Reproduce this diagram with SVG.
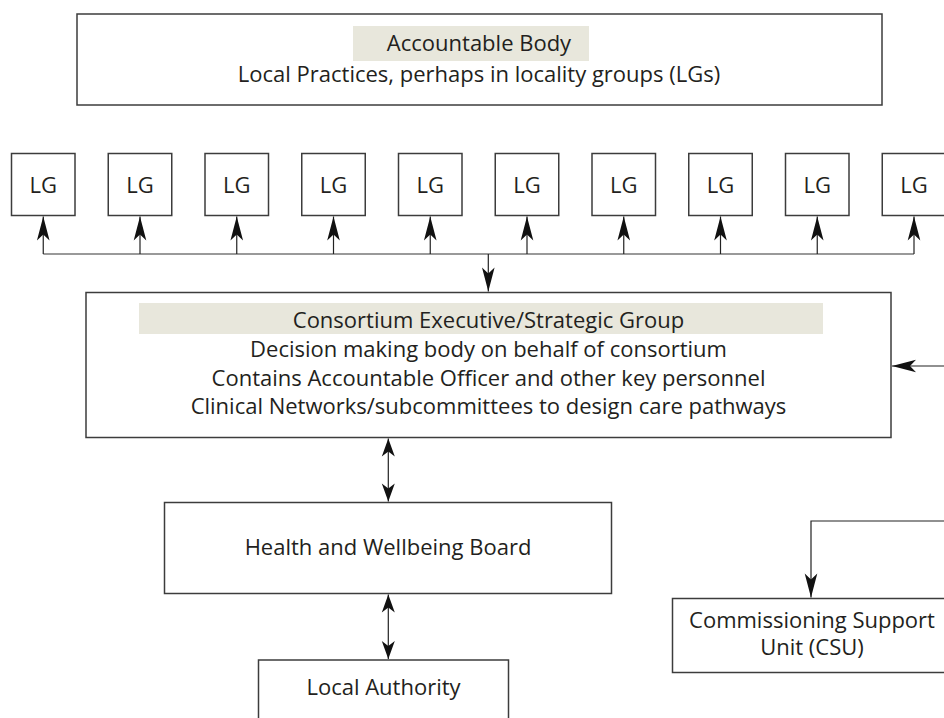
<svg xmlns="http://www.w3.org/2000/svg" width="944" height="718" viewBox="0 0 944 718">
<defs>
<style>
.box{fill:#fff;stroke:#3c3c3c;stroke-width:1.5}
.hl{fill:#e8e7dc;stroke:none}
.t{font-family:"Open Sans","Noto Sans","DejaVu Sans",sans-serif;font-size:22px;fill:#231f20;text-anchor:middle}
.ln{fill:none;stroke:#222;stroke-width:1.2}
.gl{fill:none;stroke:#777;stroke-width:1.6}
</style>
<marker id="ah" markerUnits="userSpaceOnUse" orient="auto" refX="0" refY="0" markerWidth="30" markerHeight="20" overflow="visible">
<path d="M0,0 L-24,-6.3 L-18,0 L-24,6.3 Z" fill="#111"/>
</marker>
<marker id="as" markerUnits="userSpaceOnUse" orient="auto-start-reverse" refX="0" refY="0" markerWidth="30" markerHeight="20" overflow="visible">
<path d="M0,0 L-18,-6.5 L-13,0 L-18,6.5 Z" fill="#111"/>
</marker>
</defs>

<g id="accountable-body">
<rect class="box" x="77" y="14" width="805" height="91"/>
<rect class="hl" x="353" y="26" width="236" height="35"/>
<text class="t" x="479" y="51">Accountable Body</text>
<text class="t" x="479" y="82">Local Practices, perhaps in locality groups (LGs)</text>
</g>

<g id="lg-1"><rect class="box" x="11.5" y="153.5" width="63.5" height="62"/><text class="t" x="43.25" y="192.5">LG</text></g>
<g id="lg-2"><rect class="box" x="108.25" y="153.5" width="63.5" height="62"/><text class="t" x="140" y="192.5">LG</text></g>
<g id="lg-3"><rect class="box" x="205" y="153.5" width="63.5" height="62"/><text class="t" x="236.75" y="192.5">LG</text></g>
<g id="lg-4"><rect class="box" x="301.75" y="153.5" width="63.5" height="62"/><text class="t" x="333.5" y="192.5">LG</text></g>
<g id="lg-5"><rect class="box" x="398.5" y="153.5" width="63.5" height="62"/><text class="t" x="430.25" y="192.5">LG</text></g>
<g id="lg-6"><rect class="box" x="495.25" y="153.5" width="63.5" height="62"/><text class="t" x="527" y="192.5">LG</text></g>
<g id="lg-7"><rect class="box" x="592" y="153.5" width="63.5" height="62"/><text class="t" x="623.75" y="192.5">LG</text></g>
<g id="lg-8"><rect class="box" x="688.75" y="153.5" width="63.5" height="62"/><text class="t" x="720.5" y="192.5">LG</text></g>
<g id="lg-9"><rect class="box" x="785.5" y="153.5" width="63.5" height="62"/><text class="t" x="817.25" y="192.5">LG</text></g>
<g id="lg-10"><rect class="box" x="882.25" y="153.5" width="63.5" height="62"/><text class="t" x="914" y="192.5">LG</text></g>

<g id="consortium">
<rect class="box" x="86" y="292.5" width="805" height="145"/>
<rect class="hl" x="139" y="303" width="684" height="31"/>
<text class="t" x="488.5" y="327.5">Consortium Executive/Strategic Group</text>
<text class="t" x="488.5" y="357">Decision making body on behalf of consortium</text>
<text class="t" x="488.5" y="386">Contains Accountable Officer and other key personnel</text>
<text class="t" x="488.5" y="414">Clinical Networks/subcommittees to design care pathways</text>
</g>

<g id="health-wellbeing-board">
<rect class="box" x="164.5" y="502.5" width="447" height="91"/>
<text class="t" x="388" y="555">Health and Wellbeing Board</text>
</g>

<g id="local-authority">
<rect class="box" x="258.5" y="660" width="250" height="70"/>
<text class="t" x="383.5" y="695">Local Authority</text>
</g>

<g id="csu">
<rect class="box" x="672.5" y="598.5" width="290" height="74"/>
<text class="t" x="812" y="627.5">Commissioning Support</text>
<text class="t" x="812" y="655">Unit (CSU)</text>
</g>

<g id="connectors">
<path class="gl" d="M43.25,254 H914"/>
<path class="ln" d="M43.25,254 V216.5" marker-end="url(#ah)"/>
<path class="ln" d="M140,254 V216.5" marker-end="url(#ah)"/>
<path class="ln" d="M236.75,254 V216.5" marker-end="url(#ah)"/>
<path class="ln" d="M333.5,254 V216.5" marker-end="url(#ah)"/>
<path class="ln" d="M430.25,254 V216.5" marker-end="url(#ah)"/>
<path class="ln" d="M527,254 V216.5" marker-end="url(#ah)"/>
<path class="ln" d="M623.75,254 V216.5" marker-end="url(#ah)"/>
<path class="ln" d="M720.5,254 V216.5" marker-end="url(#ah)"/>
<path class="ln" d="M817.25,254 V216.5" marker-end="url(#ah)"/>
<path class="ln" d="M914,254 V216.5" marker-end="url(#ah)"/>
<path class="ln" d="M488.3,254 V291.5" marker-end="url(#ah)"/>
<path class="ln" d="M944,366 H892" marker-end="url(#ah)"/>
<path class="ln" d="M944,521 H811 V597.5" marker-end="url(#ah)"/>
<path class="ln" d="M388.3,438.5 V501.5" marker-start="url(#as)" marker-end="url(#as)"/>
<path class="ln" d="M388.3,594.5 V659" marker-start="url(#as)" marker-end="url(#as)"/>
</g>
</svg>
